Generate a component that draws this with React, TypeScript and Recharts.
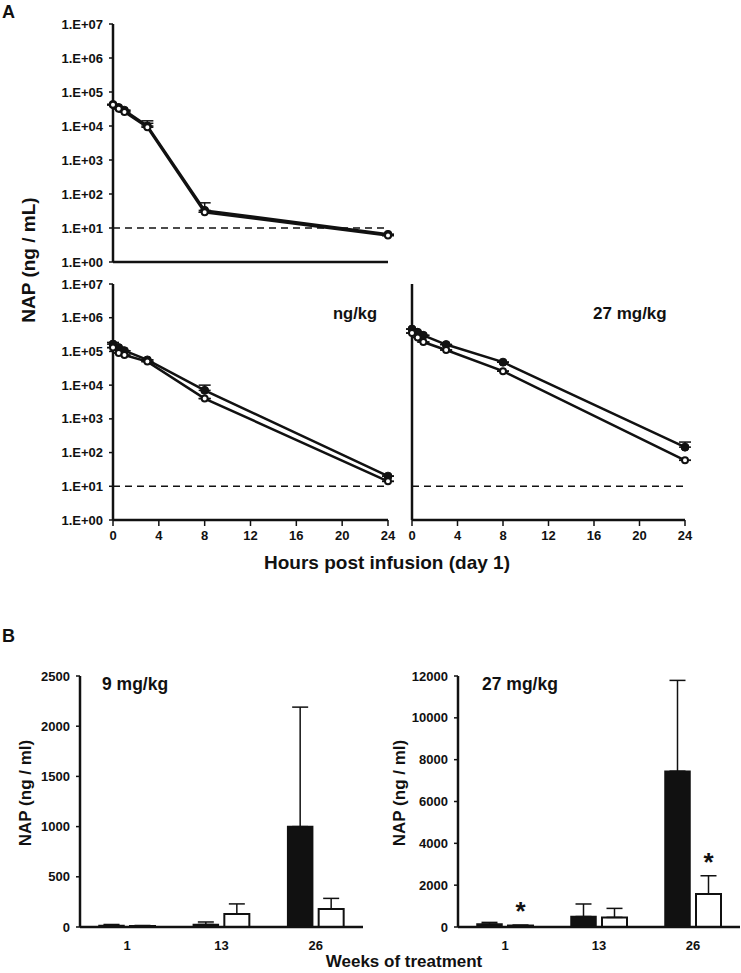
import React from 'react';
import {
  LineChart,
  Line,
  BarChart,
  Bar,
  XAxis,
  YAxis,
  ErrorBar,
  ReferenceLine,
  ReferenceDot
} from 'recharts';

// Panel A: hours post infusion
const hours = [0, 0.5, 1, 3, 8, 24];
const hourTicks = [0, 4, 8, 12, 16, 20, 24];
const logTicks = [1, 10, 100, 1e3, 1e4, 1e5, 1e6, 1e7];
const loq = 10;

const topFilled = [43000, 35000, 29000, 10000, 33, 6.5];
const topFilledErr = [0, 0, 0, 2000, 22, 0];
const topOpen = [42000, 32000, 26000, 9200, 29, 6];
const topOpenErr = [0, 0, 0, 5000, 0, 0];

const midFilled = [165000, 130000, 105000, 56000, 7000, 20];
const midFilledErr = [20000, 0, 0, 0, 3000, 0];
const midOpen = [130000, 90000, 78000, 50000, 4000, 14];
const midOpenErr = [0, 0, 0, 0, 0, 0];

const rightFilled = [460000, 370000, 300000, 160000, 48000, 145];
const rightFilledErr = [0, 0, 0, 0, 0, 60];
const rightOpen = [350000, 260000, 190000, 110000, 26000, 59];
const rightOpenErr = [0, 0, 0, 0, 0, 0];

// Panel B: weeks of treatment
const weeks = ['1', '13', '26'];
const lowTicks = [0, 500, 1000, 1500, 2000, 2500];
const lowFilled = [15, 25, 1000];
const lowFilledErr = [10, 25, 1190];
const lowOpen = [10, 130, 180];
const lowOpenErr = [5, 100, 105];

const highTicks = [0, 2000, 4000, 6000, 8000, 10000, 12000];
const highFilled = [140, 500, 7450];
const highFilledErr = [80, 600, 4340];
const highOpen = [70, 460, 1575];
const highOpenErr = [20, 430, 875];
const starWeeks = ['1', '26'];

const INK = '#111';
const FONT = '"Liberation Sans", Arial, sans-serif';
const tickStyle = { fontFamily: FONT, fontSize: 13, fontWeight: 'bold', fill: INK };
const BAR_SIZE = 25;
const BAR_GAP = 6;

const logLabel = (v: number) => '1.E+' + String(Math.round(Math.log10(v))).padStart(2, '0');

const PkPanel = ({ width, height, margin, filled, filledErr, open, openErr, yLabels, xLabels, yWidth, xHeight }: any) => {
  const data = hours.map((h, i) => ({
    h,
    filled: filled[i],
    open: open[i],
    fErr: [0, filledErr[i]],
    oErr: [0, openErr[i]]
  }));
  return (
    <LineChart width={width} height={height} data={data} margin={margin}>
      <XAxis
        dataKey="h"
        type="number"
        domain={[0, 24]}
        ticks={hourTicks}
        interval={0}
        height={xHeight}
        tick={xLabels ? tickStyle : false}
        tickSize={6}
        tickMargin={5}
        axisLine={{ stroke: INK, strokeWidth: 2.5 }}
        tickLine={{ stroke: INK, strokeWidth: 1.5 }}
      />
      <YAxis
        type="number"
        scale="log"
        domain={[1, 1e7]}
        ticks={logTicks}
        interval={0}
        width={yWidth}
        tick={yLabels ? tickStyle : false}
        tickFormatter={logLabel}
        tickSize={4}
        tickMargin={6}
        axisLine={{ stroke: INK, strokeWidth: 2.5 }}
        tickLine={{ stroke: INK, strokeWidth: 1.5 }}
      />
      <ReferenceLine y={loq} stroke={INK} strokeWidth={1.5} strokeDasharray="7 5" />
      <Line
        type="linear"
        dataKey="filled"
        stroke={INK}
        strokeWidth={2.5}
        dot={{ r: 4, fill: INK, stroke: INK, strokeWidth: 1, clipDot: false }}
        activeDot={false}
        isAnimationActive={false}
      >
        <ErrorBar dataKey="fErr" direction="y" width={6} stroke={INK} strokeWidth={1.5} />
      </Line>
      <Line
        type="linear"
        dataKey="open"
        stroke={INK}
        strokeWidth={2.5}
        dot={{ r: 3, fill: '#fff', stroke: INK, strokeWidth: 2, clipDot: false }}
        activeDot={false}
        isAnimationActive={false}
      >
        <ErrorBar dataKey="oErr" direction="y" width={6} stroke={INK} strokeWidth={1.5} />
      </Line>
    </LineChart>
  );
};

const Star = (props: any) => {
  const { viewBox } = props;
  if (!viewBox) return null;
  return (
    <text
      x={viewBox.x + BAR_GAP / 2 + BAR_SIZE / 2}
      y={viewBox.y - 5}
      textAnchor="middle"
      fontFamily={FONT}
      fontWeight="bold"
      fontSize={26}
      fill={INK}
    >
      *
    </text>
  );
};

const WeekPanel = ({ width, height, margin, ticks, filled, filledErr, open, openErr, stars }: any) => {
  const data = weeks.map((w, i) => ({
    week: w,
    filled: filled[i],
    open: open[i],
    fErr: [0, filledErr[i]],
    oErr: [0, openErr[i]]
  }));
  const top = ticks[ticks.length - 1];
  return (
    <BarChart width={width} height={height} data={data} margin={margin} barGap={BAR_GAP} barCategoryGap="20%">
      <XAxis
        dataKey="week"
        height={35}
        tick={tickStyle}
        tickLine={false}
        tickMargin={8}
        axisLine={{ stroke: INK, strokeWidth: 2.5 }}
      />
      <YAxis
        type="number"
        domain={[0, top]}
        ticks={ticks}
        interval={0}
        width={50}
        tick={tickStyle}
        tickSize={4}
        tickMargin={6}
        axisLine={{ stroke: INK, strokeWidth: 2.5 }}
        tickLine={{ stroke: INK, strokeWidth: 1.5 }}
      />
      <Bar dataKey="filled" fill={INK} stroke={INK} strokeWidth={1.5} barSize={BAR_SIZE} isAnimationActive={false}>
        <ErrorBar dataKey="fErr" direction="y" width={8} stroke={INK} strokeWidth={1.5} />
      </Bar>
      <Bar dataKey="open" fill="#fff" stroke={INK} strokeWidth={2} barSize={BAR_SIZE} isAnimationActive={false}>
        <ErrorBar dataKey="oErr" direction="y" width={8} stroke={INK} strokeWidth={1.5} />
      </Bar>
      {stars &&
        stars.map((w: string) => {
          const i = weeks.indexOf(w);
          return (
            <ReferenceDot
              key={w}
              x={w}
              y={open[i] + openErr[i]}
              r={0}
              fill="none"
              stroke="none"
              ifOverflow="visible"
              label={<Star />}
            />
          );
        })}
    </BarChart>
  );
};

const txt = { fontFamily: FONT, fontWeight: 'bold' as const, fill: INK };

export default function App() {
  return (
    <div style={{ position: 'absolute', left: 0, top: 0, width: 741, height: 973, background: '#fff' }}>
      <div style={{ position: 'absolute', left: 0, top: 0 }}>
        <PkPanel
          width={400}
          height={275}
          margin={{ top: 24, right: 12, bottom: 0, left: 53 }}
          filled={topFilled}
          filledErr={topFilledErr}
          open={topOpen}
          openErr={topOpenErr}
          yLabels
          xLabels={false}
          yWidth={60}
          xHeight={13}
        />
      </div>
      <div style={{ position: 'absolute', left: 0, top: 270 }}>
        <PkPanel
          width={400}
          height={275}
          margin={{ top: 14, right: 12, bottom: 0, left: 53 }}
          filled={midFilled}
          filledErr={midFilledErr}
          open={midOpen}
          openErr={midOpenErr}
          yLabels
          xLabels
          yWidth={60}
          xHeight={25}
        />
      </div>
      <div style={{ position: 'absolute', left: 390, top: 270 }}>
        <PkPanel
          width={310}
          height={275}
          margin={{ top: 14, right: 15, bottom: 0, left: 12 }}
          filled={rightFilled}
          filledErr={rightFilledErr}
          open={rightOpen}
          openErr={rightOpenErr}
          yLabels={false}
          xLabels
          yWidth={10}
          xHeight={25}
        />
      </div>
      <div style={{ position: 'absolute', left: 0, top: 660 }}>
        <WeekPanel
          width={370}
          height={302}
          margin={{ top: 16, right: 7, bottom: 0, left: 30 }}
          ticks={lowTicks}
          filled={lowFilled}
          filledErr={lowFilledErr}
          open={lowOpen}
          openErr={lowOpenErr}
        />
      </div>
      <div style={{ position: 'absolute', left: 380, top: 660 }}>
        <WeekPanel
          width={361}
          height={302}
          margin={{ top: 16, right: 1, bottom: 0, left: 28 }}
          ticks={highTicks}
          filled={highFilled}
          filledErr={highFilledErr}
          open={highOpen}
          openErr={highOpenErr}
          stars={starWeeks}
        />
      </div>
      <svg width={741} height={973} style={{ position: 'absolute', left: 0, top: 0, pointerEvents: 'none' }}>
        <text x={2} y={18} fontSize={18} {...txt}>A</text>
        <text x={2} y={642} fontSize={18} {...txt}>B</text>
        <text transform="translate(35,260) rotate(-90)" textAnchor="middle" fontSize={19} {...txt}>
          NAP (ng / mL)
        </text>
        <text x={377} y={319} textAnchor="end" fontSize={16.5} {...txt}>ng/kg</text>
        <text x={593} y={319} fontSize={17} {...txt}>27 mg/kg</text>
        <text x={387} y={569} textAnchor="middle" fontSize={19} {...txt}>Hours post infusion (day 1)</text>
        <text x={102} y={690} fontSize={17.5} {...txt}>9 mg/kg</text>
        <text x={482} y={690} fontSize={17.5} {...txt}>27 mg/kg</text>
        <text transform="translate(31,793) rotate(-90)" textAnchor="middle" fontSize={17} {...txt}>
          NAP (ng / ml)
        </text>
        <text transform="translate(405,793) rotate(-90)" textAnchor="middle" fontSize={17} {...txt}>
          NAP (ng / ml)
        </text>
        <text x={404} y={967} textAnchor="middle" fontSize={17} {...txt}>Weeks of treatment</text>
      </svg>
    </div>
  );
}
